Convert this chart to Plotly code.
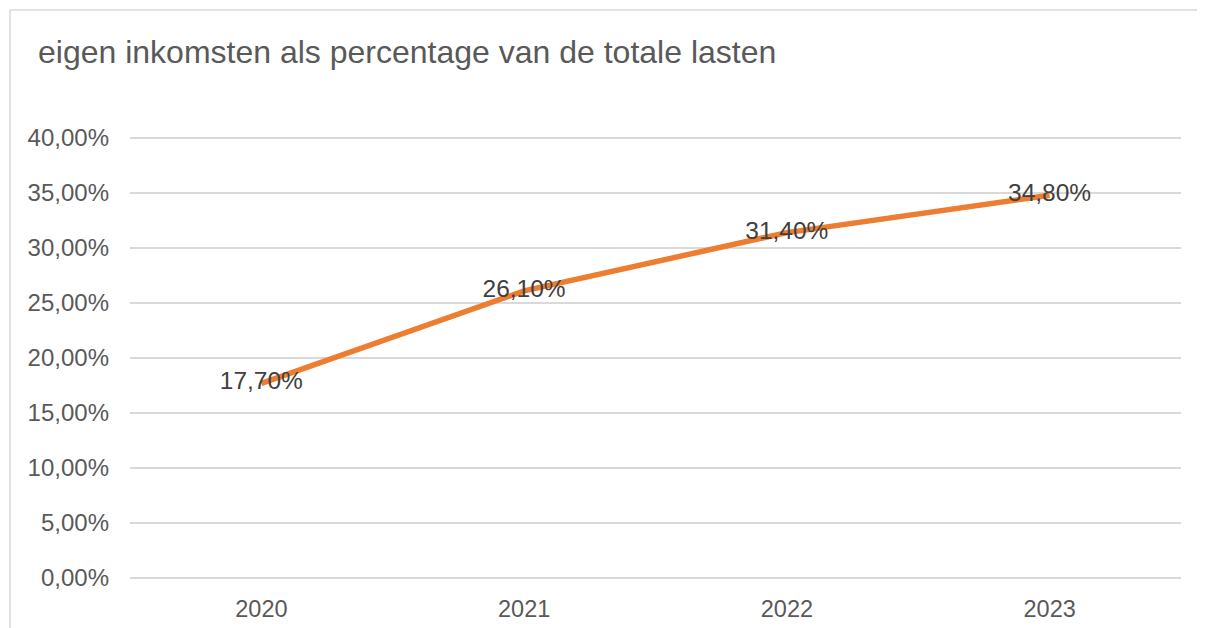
import plotly.graph_objects as go

years = ["2020", "2021", "2022", "2023"]
share = [0.177, 0.261, 0.314, 0.348]
y_ticks = [0.0, 0.05, 0.10, 0.15, 0.20, 0.25, 0.30, 0.35, 0.40]
title_text = "eigen inkomsten als percentage van de totale lasten"

# page body has an 8px default margin; figure is sized to fill the rest
OFF = 8
W, H = 1205 - OFF, 628 - OFF
PAD_PX = 4                      # small pad so edge gridlines are drawn
PAD = PAD_PX / 1100.0           # 1100 px per unit (440 px for 0.40)
L, R, T, B = 130 - OFF, 24, 138 - OFF - PAD_PX, 50 - PAD_PX
pw, ph = W - L - R, H - T - B

fig = go.Figure()
fig.add_trace(go.Scatter(
    x=years, y=share, mode="lines+text",
    line=dict(color="#ED7D31", width=5.5),
    texttemplate="%{y:.2%}", textposition="middle center",
    textfont=dict(family="Liberation Sans, Arial", size=24.5, color="#404040"),
    hoverinfo="skip", cliponaxis=False,
))

fig.update_layout(
    width=W, height=H,
    margin=dict(l=L, r=R, t=T, b=B, autoexpand=False),
    paper_bgcolor="white", plot_bgcolor="white",
    separators=",.",
    showlegend=False,
    font=dict(family="Liberation Sans, Arial", color="#595959"),
    title=dict(text=title_text, x=(38 - OFF) / W, xref="container", xanchor="left",
               y=1 - (52 - OFF) / H, yref="container", yanchor="middle",
               font=dict(size=32, color="#595959")),
    xaxis=dict(range=[-0.5, 3.5], showgrid=False, showline=False, zeroline=False,
               automargin=False,
               tickfont=dict(size=23.5, color="#595959"), ticks="",
               ticklabelstandoff=14 - PAD_PX),
    yaxis=dict(range=[-PAD, 0.40 + PAD], tickvals=y_ticks, tickformat=".2%",
               showgrid=True, gridcolor="#D9D9D9", gridwidth=1.5,
               zeroline=False, showline=False, ticks="", automargin=False,
               tickfont=dict(size=24, color="#595959"), ticklabelstandoff=20),
    shapes=[dict(type="rect", xref="paper", yref="paper",
                 x0=(10 - 130) / pw, x1=1.1, y0=-0.3,
                 y1=(578 + PAD_PX - 10) / ph,
                 line=dict(color="#D9D9D9", width=1.5), layer="below")],
)
fig.write_html("out.html")
